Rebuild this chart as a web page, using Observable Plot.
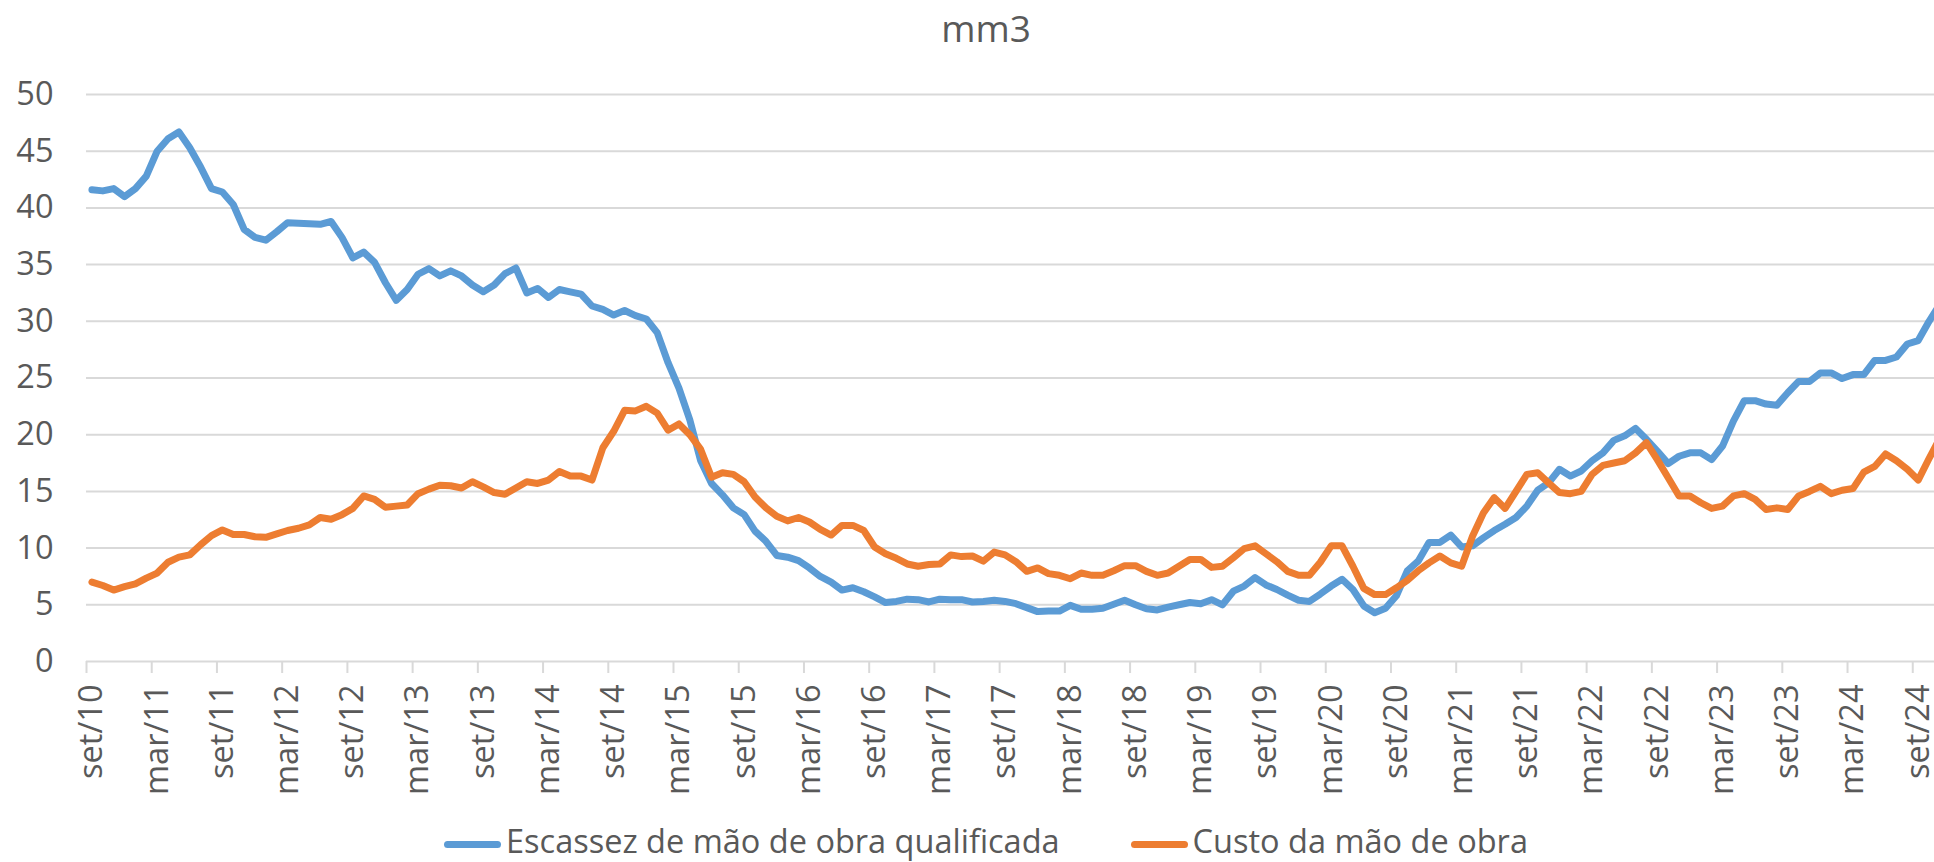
<!DOCTYPE html>
<html><head><meta charset="utf-8">
<script src="https://cdn.jsdelivr.net/npm/d3@7"></script>
<script src="https://cdn.jsdelivr.net/npm/@observablehq/plot@0.6"></script>
<style>
html,body{margin:0;padding:0;background:#fff;}
#wrap{position:relative;width:1934px;height:862px;overflow:hidden;font-family:"Open Sans",sans-serif;color:#595959;}
#chart{position:absolute;left:0;top:0;}
#title{position:absolute;left:0;top:9px;width:1972px;text-align:center;font-size:37px;line-height:1;}
#legend{position:absolute;left:0;top:825px;width:1972px;display:flex;justify-content:center;align-items:center;font-size:32.5px;line-height:1;white-space:nowrap;}
.item{display:flex;align-items:center;}
.item + .item{margin-left:71px;}
.sw{width:57px;height:7px;border-radius:3.5px;margin-right:5px;position:relative;top:3px;}
</style></head><body>
<div id="wrap"><div id="chart"></div><div id="title">mm3</div><div id="legend"></div></div>
<script>
// Monthly series, starting set/10 (Sep 2010)
const seriesNames = ["Escassez de mão de obra qualificada", "Custo da mão de obra"];
const seriesColors = ["#5b9bd5", "#ed7d31"];

const escassez = [
  41.6, 41.5, 41.7, 41.0, 41.7, 42.8, 45.0, 46.1, 46.7, 45.3,
  43.6, 41.7, 41.4, 40.3, 38.1, 37.4, 37.15, 37.9, 38.7, 38.65,
  38.6, 38.55, 38.8, 37.4, 35.6, 36.1, 35.2, 33.4, 31.85, 32.8,
  34.15, 34.65, 34.0, 34.45, 34.0, 33.2, 32.6, 33.2, 34.2, 34.7,
  32.5, 32.9, 32.1, 32.8, 32.6, 32.4, 31.35, 31.05, 30.55, 30.95,
  30.5, 30.2, 29.0, 26.35, 24.1, 21.3, 17.7, 15.7, 14.7, 13.55,
  12.95, 11.5, 10.6, 9.35, 9.2, 8.9, 8.25, 7.5, 7.0, 6.3,
  6.5, 6.15, 5.7, 5.2, 5.3, 5.5, 5.45, 5.25, 5.5, 5.45,
  5.45, 5.25, 5.3, 5.4, 5.3, 5.1, 4.75, 4.4, 4.45, 4.45,
  4.95, 4.6, 4.6, 4.7, 5.05, 5.4, 5.0, 4.65, 4.55, 4.8,
  5.0, 5.2, 5.1, 5.45, 5.0, 6.2, 6.65, 7.4, 6.75, 6.35,
  5.85, 5.4, 5.3, 5.95, 6.65, 7.25, 6.35, 4.9, 4.3, 4.7,
  5.8, 8.0, 8.85, 10.5, 10.5, 11.15, 10.1, 10.2, 10.9, 11.55,
  12.1, 12.7, 13.7, 15.1, 15.75, 16.95, 16.35, 16.8, 17.7, 18.4,
  19.5, 19.9, 20.55, 19.6, 18.55, 17.45, 18.1, 18.4, 18.4, 17.8,
  19.0, 21.2, 23.0, 23.0, 22.7, 22.6, 23.7, 24.7, 24.7, 25.45,
  25.45, 24.95, 25.3, 25.3, 26.55, 26.55, 26.85, 28.0, 28.3, 30.0,
  31.5
];

const custo = [
  7.0, 6.7, 6.3, 6.6, 6.85, 7.35, 7.8, 8.75, 9.2, 9.4,
  10.3, 11.1, 11.6, 11.2, 11.2, 11.0, 10.95, 11.25, 11.55, 11.75,
  12.05, 12.7, 12.55, 12.95, 13.5, 14.6, 14.3, 13.6, 13.7, 13.8,
  14.8, 15.2, 15.55, 15.5, 15.3, 15.85, 15.4, 14.9, 14.75, 15.3,
  15.85, 15.7, 16.0, 16.75, 16.35, 16.35, 16.0, 18.85, 20.3, 22.15,
  22.1, 22.5, 21.9, 20.4, 20.95, 20.0, 18.7, 16.25, 16.65, 16.5,
  15.85, 14.5, 13.55, 12.8, 12.4, 12.7, 12.3, 11.65, 11.15, 12.0,
  12.0, 11.55, 10.1, 9.5, 9.1, 8.6, 8.4, 8.55, 8.6, 9.4,
  9.25, 9.3, 8.85, 9.65, 9.4, 8.8, 7.95, 8.25, 7.75, 7.6,
  7.3, 7.8, 7.6, 7.6, 8.0, 8.45, 8.45, 7.95, 7.6, 7.8,
  8.4, 9.0, 9.0, 8.3, 8.4, 9.15, 9.95, 10.2, 9.5, 8.8,
  7.95, 7.6, 7.6, 8.75, 10.2, 10.2, 8.4, 6.45, 5.9, 5.9,
  6.5, 7.15, 8.0, 8.7, 9.3, 8.7, 8.4, 11.05, 13.1, 14.45,
  13.5, 15.0, 16.5, 16.65, 15.75, 14.9, 14.8, 15.0, 16.5, 17.3,
  17.5, 17.7, 18.4, 19.3, 17.8, 16.2, 14.6, 14.6, 14.0, 13.5,
  13.7, 14.6, 14.8, 14.3, 13.4, 13.55, 13.4, 14.6, 15.0, 15.45,
  14.8, 15.1, 15.25, 16.7, 17.2, 18.3, 17.7, 16.95, 16.0, 17.9,
  19.7
];

// One label every 6 months
const tickLabels = [
  "set/10", "mar/11", "set/11", "mar/12", "set/12", "mar/13", "set/13", "mar/14",
  "set/14", "mar/15", "set/15", "mar/16", "set/16", "mar/17", "set/17", "mar/18",
  "set/18", "mar/19", "set/19", "mar/20", "set/20", "mar/21", "set/21", "mar/22",
  "set/22", "mar/23", "set/23", "mar/24", "set/24"
];
const yTicks = [0, 5, 10, 15, 20, 25, 30, 35, 40, 45, 50];

const W = 1934, H = 815;
const nVisible = 170;
const labelIdx = tickLabels.map((_, k) => k * 6);
const boundaries = d3.range(-0.5, nVisible, 6);

const lineOpts = (color) => ({
  x: (d, i) => i, y: d => d, stroke: color, strokeWidth: 7,
  strokeLinejoin: "round", strokeLinecap: "round", clip: true
});

const chart = Plot.plot({
  width: W, height: H,
  marginLeft: 86, marginRight: 0, marginTop: 94, marginBottom: H - 661,
  style: {fontFamily: '"Open Sans", sans-serif', fontSize: "32.5px", color: "#595959", background: "transparent", overflow: "visible"},
  x: {type: "linear", domain: [-0.5, nVisible - 0.5]},
  y: {domain: [0, 50]},
  marks: [
    Plot.ruleY(yTicks, {stroke: "#d9d9d9", strokeWidth: 2}),
    Plot.axisY({ticks: yTicks, tickSize: 0, tickPadding: 33, tickFormat: d => String(d), label: null}),
    Plot.axisX({ticks: boundaries, tickSize: 12, tickFormat: () => "", stroke: "#d9d9d9", strokeWidth: 2, label: null}),
    Plot.axisX({ticks: labelIdx, tickSize: 0, tickPadding: 23, tickRotate: -90, tickFormat: i => tickLabels[Math.round(i / 6)], label: null}),
    Plot.lineY(escassez, lineOpts(seriesColors[0])),
    Plot.lineY(custo, lineOpts(seriesColors[1]))
  ]
});
document.getElementById("chart").appendChild(chart);

const legend = document.getElementById("legend");
seriesNames.forEach((name, k) => {
  const item = document.createElement("div");
  item.className = "item";
  const sw = document.createElement("span");
  sw.className = "sw";
  sw.style.background = seriesColors[k];
  const tx = document.createElement("span");
  tx.textContent = name;
  item.appendChild(sw); item.appendChild(tx);
  legend.appendChild(item);
});
</script>
</body></html>
